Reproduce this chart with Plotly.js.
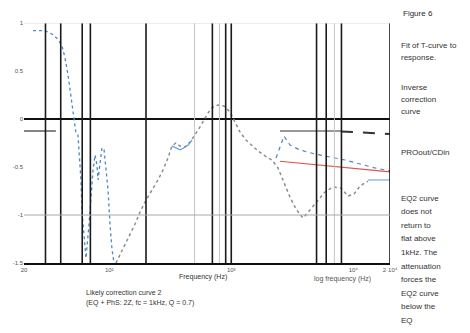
<!DOCTYPE html>
<html>
<head>
<meta charset="utf-8">
<script src="https://cdn.plot.ly/plotly-3.0.1.min.js"></script>
<style>
  html, body { margin: 0; padding: 0; background: #fff; }
  #chart { width: 470px; height: 333px; }
</style>
</head>
<body>
<div id="chart"></div>
<script>
// ---- Measured response, low-frequency room modes (Hz / level) ----
const measLowHz = [23.7, 29.7, 33.9, 38.0, 41.0, 43.4, 45.9, 47.6, 49.4, 51.4, 53.3, 55.4, 56.5, 58.6, 59.7,
                   62.1, 64.4, 68.2, 70.8, 73.6, 76.4, 79.3, 80.9, 84.0, 87.1, 90.6, 94.0, 97.7, 101.4, 105.3, 109.4];
const measLowLvl = [0.92, 0.92, 0.885, 0.83, 0.76, 0.635, 0.46, 0.30, 0.145, -0.01, -0.146, -0.167, -0.32, -0.635, -0.95,
                    -1.21, -1.45, -1.10, -0.79, -0.53, -0.375, -0.48, -0.635, -0.43, -0.30, -0.32, -0.51, -0.74, -1.10, -1.36, -1.5];

// ---- Measured response, mid-band dip ----
const measMidHz = [326, 352, 380, 410, 443, 478];
const measMidLvl = [-0.28, -0.30, -0.32, -0.30, -0.27, -0.22];

// ---- Measured response, high-frequency branch ----
const measHighHz = [2327, 2705, 3027, 3655, 4856, 6440, 8550, 11352, 15070, 20000];
const measHighLvl = [-0.406, -0.177, -0.271, -0.323, -0.365, -0.396, -0.427, -0.469, -0.51, -0.54];

// ---- Fitted / inverse correction curve ----
const fitHz = [113.5, 122.4, 134.6, 147.9, 162.6, 178.7, 200.1, 224.1, 250.8, 275.6, 302.9, 326.3, 352.2, 380.2,
               417.8, 459.2, 504.7, 554.6, 609.5, 669.9, 708.6, 778.5, 871.0, 977, 1072, 1178, 1320, 1479, 1657,
               1888, 2156, 2415, 2705, 3027, 3390, 3870, 4415, 5138, 5866, 6818, 7925, 9057, 10142, 11352, 13207];
const fitLvl = [-1.5, -1.417, -1.3125, -1.208, -1.094, -0.969, -0.844, -0.74, -0.635, -0.531, -0.406, -0.281, -0.25, -0.281,
                -0.292, -0.24, -0.167, -0.083, 0.01, 0.094, 0.125, 0.146, 0.135, 0.073, -0.031, -0.135, -0.219, -0.281, -0.333,
                -0.385, -0.427, -0.51, -0.667, -0.8125, -0.9375, -1.031, -0.948, -0.844, -0.76, -0.708, -0.719, -0.802, -0.781, -0.698, -0.646];

// ---- PROout/CDin ----
const proHz = [2506, 3027, 4415, 6440, 9393, 13701, 20000];
const proLvl = [-0.44, -0.45, -0.47, -0.49, -0.51, -0.53, -0.55];

// ---- Shelf reference level (low and high ends) ----
const shelfHz = [20, 36.5, null, 2506, 7925];
const shelfLvl = [-0.125, -0.125, null, -0.125, -0.125];
const shelfTailHz = [7925, 11352, 16547, 20000];
const shelfTailLvl = [-0.13, -0.14, -0.15, -0.155];

// ---- EQ2 high-frequency segment ----
const eq2Hz = [13207, 20000];
const eq2Lvl = [-0.635, -0.635];

// ---- Axis ticks ----
const xTickVals = [20, 100, 1000, 10000, 20000];
const xTickText = ['20', '10\u00b2', '10\u00b3', '10\u2074', '2\u00b710\u2074'];
const yTickVals = [-1.5, -1, -0.5, 0, 0.5, 1];
const yTickText = ['-1.5', '-1', '-0.5', '0', '0.5', '1'];

// ---- Marker frequencies drawn as vertical rules ----
const markerHz = [30, 40, 60, 70, 200, 700, 900, 1000, 5000, 6000, 8000, 20000];
const faintMarkerHz = [500, 800, 7000];

// ---- Text ----
const figureLabel = 'Figure 6';
const sideNotes = [
  ['Fit of T-curve to', 'response.'],
  ['Inverse', 'correction', 'curve'],
  ['PROout/CDin'],
  ['EQ2 curve', 'does not', 'return to', 'flat above', '1kHz. The', 'attenuation', 'forces the', 'EQ2 curve', 'below the', 'EQ']
];
const footNote = ['Likely correction curve 2', '(EQ + PhS: 2Z, fc = 1kHz, Q = 0.7)'];
const xTitle = 'Frequency (Hz)';
const xTitle2 = 'log frequency (Hz)';

// plot area in pixels: left 24, right 390, top 23, bottom 263
const L = 24, R = 390, T = 23, B = 263;
const px = p => (p - L) / (R - L);
const py = p => (B - p) / (B - T);

const traces = [
  { x: fitHz, y: fitLvl, mode: 'lines', line: { color: '#8c8c8c', width: 1.5, dash: 'dot' } },
  { x: measLowHz, y: measLowLvl, mode: 'lines', line: { color: '#4f86c6', width: 1.3, dash: '3px,3px' } },
  { x: measMidHz, y: measMidLvl, mode: 'lines', line: { color: '#6a9fd8', width: 1.3 } },
  { x: measHighHz, y: measHighLvl, mode: 'lines', line: { color: '#5a84b8', width: 1.2, dash: '4px,4px' } },
  { x: proHz, y: proLvl, mode: 'lines', line: { color: '#d9534f', width: 1.2 } },
  { x: shelfHz, y: shelfLvl, mode: 'lines', connectgaps: false, line: { color: '#333', width: 1.2 } },
  { x: shelfTailHz, y: shelfTailLvl, mode: 'lines', line: { color: '#333', width: 2, dash: '12px,10px' } },
  { x: eq2Hz, y: eq2Lvl, mode: 'lines', line: { color: '#7fa9dc', width: 1.2 } }
];

const shapes = [];
markerHz.forEach(f => shapes.push({ type: 'line', xref: 'x', yref: 'paper', x0: f, x1: f, y0: 0, y1: 1,
  line: { color: '#1a1a1a', width: 1.6 } }));
faintMarkerHz.forEach(f => shapes.push({ type: 'line', xref: 'x', yref: 'paper', x0: f, x1: f, y0: 0, y1: 1,
  line: { color: '#c4c4c4', width: 1 } }));
shapes.push({ type: 'line', xref: 'paper', yref: 'y', x0: 0, x1: 1, y0: 1, y1: 1, line: { color: '#dcdcdc', width: 1 } });
shapes.push({ type: 'line', xref: 'paper', yref: 'y', x0: 0, x1: 1, y0: -1, y1: -1, line: { color: '#a8a8a8', width: 1 } });

const annotations = [];
const noteFont = { family: 'Liberation Sans, Arial, sans-serif', size: 8, color: '#333' };
annotations.push({ xref: 'paper', yref: 'paper', x: px(418), y: py(14), text: figureLabel, showarrow: false,
  xanchor: 'center', yanchor: 'middle', font: { family: noteFont.family, size: 8, color: '#2a2a2a' } });
const noteTops = [45, 87, 152, 198];
const noteStep = [12, 12, 12, 13.6];
sideNotes.forEach((block, i) => {
  block.forEach((line, j) => {
    annotations.push({ xref: 'paper', yref: 'paper', x: px(399), y: py(noteTops[i] + j * noteStep[i]),
      text: line, showarrow: false, xanchor: 'left', yanchor: 'middle', font: noteFont });
  });
});
footNote.forEach((line, j) => {
  annotations.push({ xref: 'paper', yref: 'paper', x: px(84), y: py(293 + j * 10), text: line, showarrow: false,
    xanchor: 'left', yanchor: 'middle', font: { family: noteFont.family, size: 7, color: '#333' } });
});
annotations.push({ xref: 'paper', yref: 'paper', x: px(203), y: py(277), text: xTitle, showarrow: false,
  xanchor: 'center', yanchor: 'middle', font: { family: noteFont.family, size: 7, color: '#333' } });
annotations.push({ xref: 'paper', yref: 'paper', x: px(342), y: py(279), text: xTitle2, showarrow: false,
  xanchor: 'center', yanchor: 'middle', font: { family: noteFont.family, size: 7, color: '#555' } });

const layout = {
  width: 470, height: 333,
  margin: { l: L, r: 470 - R, t: T, b: 333 - B, pad: 0 },
  paper_bgcolor: '#fff', plot_bgcolor: '#fff',
  showlegend: false,
  font: { family: 'Liberation Sans, Arial, sans-serif', color: '#444' },
  xaxis: {
    type: 'log', range: [Math.log10(20), Math.log10(20000)],
    showgrid: false, zeroline: false,
    showline: true, linecolor: '#111', linewidth: 2,
    tickmode: 'array', tickvals: xTickVals, ticktext: xTickText,
    ticks: '', tickfont: { size: 6, color: '#555' }
  },
  yaxis: {
    range: [-1.5, 1],
    showgrid: false, showline: false,
    zeroline: true, zerolinecolor: '#111', zerolinewidth: 2,
    tickmode: 'array', tickvals: yTickVals, ticktext: yTickText,
    ticks: '', tickfont: { size: 6, color: '#555' }
  },
  shapes: shapes,
  annotations: annotations
};

Plotly.newPlot('chart', traces, layout, { staticPlot: true, displayModeBar: false });
</script>
</body>
</html>
